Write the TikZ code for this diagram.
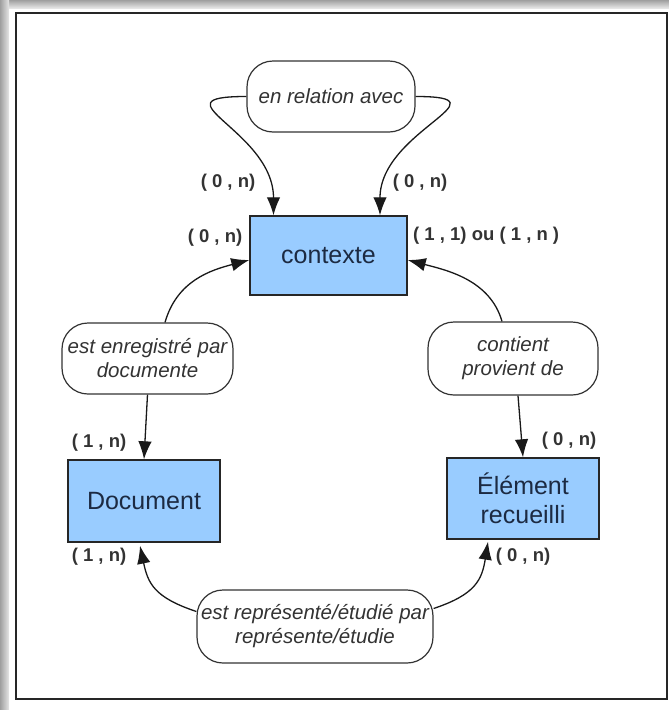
\documentclass[tikz,border=0pt]{standalone}
\usepackage{fontspec}
\setmainfont{Liberation Sans}
\usepackage{xcolor}
\usetikzlibrary{arrows.meta,positioning,calc}

\definecolor{bleuent}{HTML}{99CCFF}
\definecolor{encre}{HTML}{1C2A42}
\definecolor{gristxt}{HTML}{333333}

\begin{document}
\begin{tikzpicture}[x=1pt, y=-1pt,
    entite/.style={draw=black!85, line width=1.4pt, fill=bleuent, text=encre,
      inner sep=0pt, align=center, font=\fontsize{25}{29}\selectfont},
    relation/.style={draw=black!80, line width=1.2pt, fill=white, rounded corners=26pt,
      text=gristxt, inner sep=0pt, align=center, font=\fontsize{20.5}{24}\selectfont\itshape},
    card/.style={text=gristxt, inner sep=0pt, font=\fontsize{18.5}{20}\selectfont\bfseries},
    lien/.style={line width=1.3pt, draw=black!90, -{Latex[length=18pt,width=13.5pt]}}]
    \useasboundingbox (0,0) rectangle (669,710);
    % cadre
    \shade[top color=gray!75, bottom color=gray!20] (0,0) rectangle (669,8);
    \shade[left color=gray!75, right color=gray!20] (0,0) rectangle (9,710);
    \draw[line width=1.6pt, gray!30!black] (16,13) rectangle (667,699);
    % entites
    \node[entite, minimum width=157pt, minimum height=79pt] (ctx) at (328.5,255.5) {contexte};
    \node[entite, minimum width=152pt, minimum height=82pt] (doc) at (144,501) {Document};
    \node[entite, minimum width=152pt, minimum height=81pt] (elem) at (523,498.5) {Élément\\ recueilli};
    % associations
    \node[relation, minimum width=168pt, minimum height=71pt] (enrel) at (331,96.5) {en relation avec};
    \node[relation, minimum width=171pt, minimum height=71pt] (enreg) at (147.5,358.5) {est enregistré par\\ documente};
    \node[relation, minimum width=170pt, minimum height=73pt] (contient) at (513,358.5) {contient\\ provient de};
    \node[relation, minimum width=236pt, minimum height=73pt] (repr) at (315,626.5) {est représenté/étudié par\\ représente/étudie};
    % liens
    \draw[lien] (enrel.west) .. controls +(-95,0) and +(0,-85) .. ([xshift=-55pt]ctx.north);
    \draw[lien] (enrel.east) .. controls +(95,0) and +(0,-85) .. ([xshift=51.5pt]ctx.north);
    \draw[lien] ([xshift=17.5pt]enreg.north) .. controls +(12,-42) and +(-38,10) .. ([yshift=-4.5pt]ctx.west);
    \draw[lien] ([xshift=-11pt]contient.north) .. controls +(-12,-42) and +(38,10) .. ([yshift=-4.5pt]ctx.east);
    \draw[lien] (enreg.south) -- (doc.north);
    \draw[lien] ([xshift=5pt]contient.south) -- (elem.north);
    \draw[lien] ([yshift=15pt]repr.west) .. controls +(-42,-14) and +(8,38) .. ([xshift=-4pt,yshift=-3pt]doc.south);
    \draw[lien] ([yshift=18pt]repr.east) .. controls +(42,-14) and +(-6,38) .. ([xshift=-35pt,yshift=-2pt]elem.south);
    % cardinalites
    \node[card] (c1) at (228,183) {( 0 , n)};
    \node[card] (c2) at (420,183) {( 0 , n)};
    \node[card] (c3) at (215,238) {( 0 , n)};
    \node[card, anchor=west] (c4) at (413,236) {( 1 , 1) ou ( 1 , n )};
    \node[card] (c5) at (99,443) {( 1 , n)};
    \node[card] (c6) at (569,441) {( 0 , n)};
    \node[card] (c7) at (99,557) {( 1 , n)};
    \node[card] (c8) at (523,557) {( 0 , n)};
  \end{tikzpicture}
\end{document}
